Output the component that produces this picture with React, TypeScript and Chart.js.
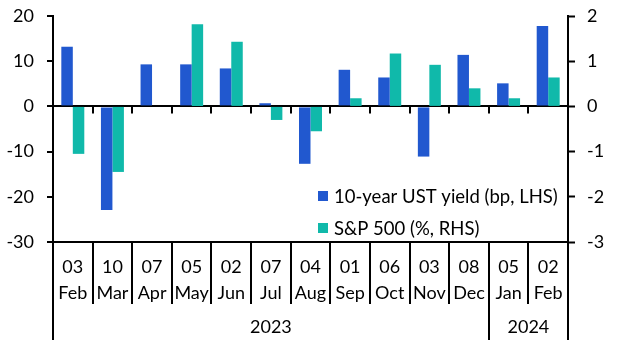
import React, { useEffect, useRef } from 'react';
import { Chart, registerables } from 'chart.js';

Chart.register(...registerables);

const days = ['03', '10', '07', '05', '02', '07', '04', '01', '06', '03', '08', '05', '02'];
const months = ['Feb', 'Mar', 'Apr', 'May', 'Jun', 'Jul', 'Aug', 'Sep', 'Oct', 'Nov', 'Dec', 'Jan', 'Feb'];
const years = ['2023', '2024'];
const yearCounts = [11, 2];
const ustYield = [13.2, -22.9, 9.3, 9.3, 8.4, 0.7, -12.7, 8.1, 6.4, -11.1, 11.4, 5.1, 17.8];
const sp500 = [-1.05, -1.45, 0, 1.82, 1.43, -0.3, -0.55, 0.18, 1.17, 0.92, 0.4, 0.18, 0.64];
const seriesNames = ['10-year UST yield (bp, LHS)', 'S&P 500 (%, RHS)'];
const seriesColors = ['#2158CF', '#10B9AA'];
const leftRange = [-30, 20];
const rightRange = [-3, 2];

const FONT = 'Lato, "Open Sans", sans-serif';

const decorPlugin = {
  id: 'decor',
  afterDraw(chart: any) {
    const { ctx, chartArea: a, scales } = chart;
    const xs = scales.x;
    const y0 = scales.y.getPixelForValue(0);
    const n = days.length;
    const bounds: number[] = [];
    for (let i = 0; i <= n; i++) {
      if (i === 0) bounds.push(a.left);
      else if (i === n) bounds.push(a.right);
      else bounds.push((xs.getPixelForValue(i - 1) + xs.getPixelForValue(i)) / 2);
    }
    const yearBounds: number[] = [0];
    yearCounts.forEach((c) => yearBounds.push(yearBounds[yearBounds.length - 1] + c));
    ctx.save();
    ctx.strokeStyle = '#000';
    ctx.lineWidth = 2;
    ctx.beginPath();
    for (let i = 1; i < n; i++) {
      const px = Math.round(bounds[i]);
      ctx.moveTo(px, y0);
      ctx.lineTo(px, y0 + 7);
    }
    for (let i = 0; i <= n; i++) {
      const px = Math.round(bounds[i]);
      const isYear = yearBounds.includes(i);
      ctx.moveTo(px, a.bottom);
      ctx.lineTo(px, a.bottom + (isYear ? 98 : 62));
    }
    ctx.stroke();
    ctx.fillStyle = '#000';
    ctx.font = `18px ${FONT}`;
    ctx.textAlign = 'center';
    ctx.textBaseline = 'middle';
    years.forEach((yr, k) => {
      const cx = (bounds[yearBounds[k]] + bounds[yearBounds[k + 1]]) / 2;
      ctx.fillText(yr, cx, a.bottom + 85);
    });
    // legend
    ctx.textAlign = 'left';
    ctx.font = `18.5px ${FONT}`;
    const lx = a.left + 265;
    const ly = [a.bottom - 46, a.bottom - 14];
    seriesNames.forEach((name, k) => {
      ctx.fillStyle = seriesColors[k];
      ctx.fillRect(lx, ly[k] - 5, 10, 10);
      ctx.fillStyle = '#000';
      ctx.fillText(name, lx + 16, ly[k] + 1);
    });
    ctx.restore();
  },
};

export default function App() {
  const ref = useRef<HTMLCanvasElement>(null);
  useEffect(() => {
    document.body.style.margin = '0';
    const labels = days.map((d, i) => [d, months[i]]);
    const chart = new Chart(ref.current as HTMLCanvasElement, {
      type: 'bar',
      data: {
        labels,
        datasets: [
          {
            label: seriesNames[0],
            data: ustYield,
            backgroundColor: seriesColors[0],
            yAxisID: 'y',
            barPercentage: 1,
            categoryPercentage: 0.58,
          },
          {
            label: seriesNames[1],
            data: sp500,
            backgroundColor: seriesColors[1],
            yAxisID: 'y1',
            barPercentage: 1,
            categoryPercentage: 0.58,
          },
        ],
      },
      options: {
        responsive: false,
        animation: false,
        layout: { padding: { top: 16, left: 0, right: 0, bottom: 0 } },
        plugins: {
          legend: { display: false },
          tooltip: { enabled: false },
        },
        scales: {
          x: {
            grid: { display: false },
            border: { display: true, color: '#000', width: 2 },
            ticks: {
              color: '#000',
              font: { family: FONT, size: 18, lineHeight: 1.4 },
              autoSkip: false,
              maxRotation: 0,
              padding: 5,
            },
            afterFit(s: any) {
              s.height = 110;
              s.paddingLeft = 0;
              s.paddingRight = 0;
            },
          },
          y: {
            position: 'left',
            min: leftRange[0],
            max: leftRange[1],
            ticks: {
              stepSize: 10,
              color: '#000',
              font: { family: FONT, size: 18 },
              padding: 13,
            },
            grid: {
              color: (c: any) => (c.tick && c.tick.value === 0 ? '#000' : 'rgba(0,0,0,0)'),
              lineWidth: 2,
              tickColor: '#000',
              tickLength: 6,
              tickWidth: 2,
            },
            border: { display: true, color: '#000', width: 2 },
            afterFit(s: any) {
              s.width = 53;
              s.paddingTop = 0;
              s.paddingBottom = 0;
            },
          },
          y1: {
            position: 'right',
            min: rightRange[0],
            max: rightRange[1],
            ticks: {
              stepSize: 1,
              color: '#000',
              font: { family: FONT, size: 18 },
              padding: 12,
            },
            grid: {
              drawOnChartArea: false,
              tickColor: '#000',
              tickLength: 7,
              tickWidth: 2,
            },
            border: { display: true, color: '#000', width: 2 },
            afterFit(s: any) {
              s.width = 49;
              s.paddingTop = 0;
              s.paddingBottom = 0;
            },
          },
        },
      },
      plugins: [decorPlugin],
    } as any);
    return () => chart.destroy();
  }, []);
  return <canvas ref={ref} width={617} height={352} style={{ display: 'block' }} />;
}
